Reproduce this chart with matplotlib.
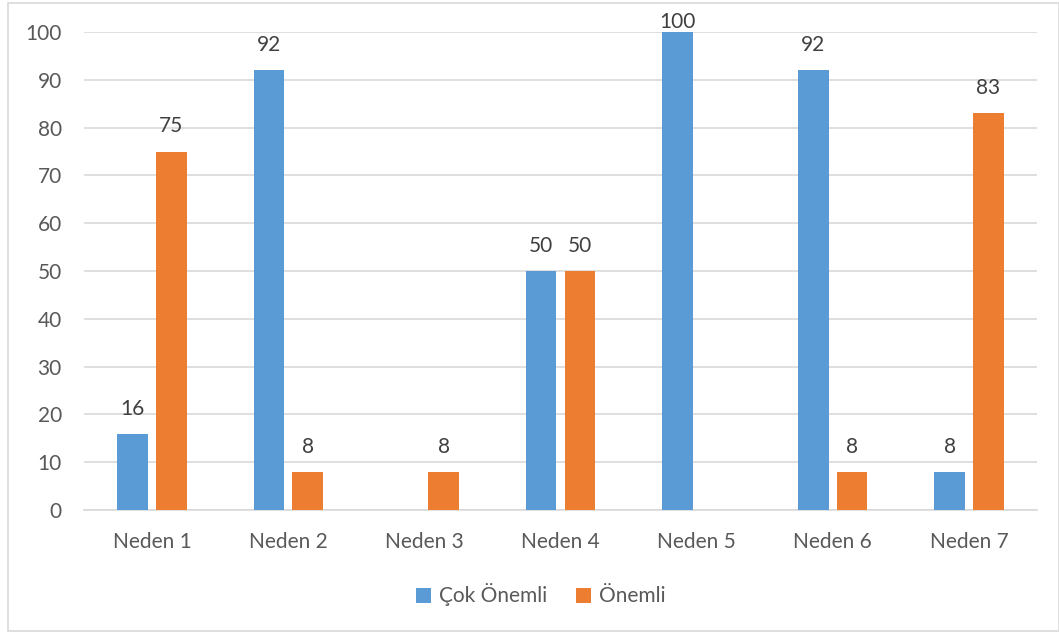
import matplotlib.pyplot as plt
from matplotlib.patches import Rectangle
import numpy as np

plt.rcParams['font.family'] = ['Lato', 'DejaVu Sans']

categories = ['Neden 1', 'Neden 2', 'Neden 3', 'Neden 4', 'Neden 5', 'Neden 6', 'Neden 7']
cok_onemli = [16, 92, 0, 50, 100, 92, 8]
onemli = [75, 8, 8, 50, 0, 8, 83]
series_names = ['Çok Önemli', 'Önemli']

blue = '#5B9BD5'
orange = '#ED7D31'
text_col = '#595959'
grid_col = '#D9D9D9'

fig = plt.figure(figsize=(10.59, 6.32), dpi=100)
ax = fig.add_axes([84 / 1059, 1 - 510 / 632, (1037 - 84) / 1059, 478 / 632])

x = np.arange(len(categories))
w = 0.225
off = 0.142
b1 = ax.bar(x - off, cok_onemli, w, color=blue, label=series_names[0], zorder=3)
b2 = ax.bar(x + off, onemli, w, color=orange, label=series_names[1], zorder=3)

# data labels, zero values are left without a label
for bars, vals in ((b1, cok_onemli), (b2, onemli)):
    for bar, v in zip(bars, vals):
        if v == 0:
            continue
        dy = 25 if v < 98 else 10
        ax.annotate(str(v), (bar.get_x() + bar.get_width() / 2, v),
                    xytext=(0, dy), textcoords='offset pixels',
                    ha='center', va='center', fontsize=15, color='#404040',
                    annotation_clip=False)

ax.set_xlim(-0.5, len(categories) - 0.5)
ax.set_ylim(0, 100)
ax.set_yticks(range(0, 101, 10))
ax.set_xticks(x)
ax.set_xticklabels(categories)
ax.tick_params(axis='both', length=0, labelsize=15, colors=text_col)
ax.tick_params(axis='y', pad=16)
ax.tick_params(axis='x', pad=16)
ax.yaxis.grid(True, color=grid_col, linewidth=1.2, zorder=0)
for s in ['top', 'right', 'left']:
    ax.spines[s].set_visible(False)
ax.spines['bottom'].set_color(grid_col)
ax.spines['bottom'].set_linewidth(1.2)

fig.legend(loc='center', bbox_to_anchor=(541 / 1059, 1 - 595 / 632), ncol=2,
           frameon=False, fontsize=15, labelcolor=text_col, handlelength=0.7,
           handleheight=0.7, handletextpad=0.4, columnspacing=1.4)

# chart border
fig.patches.append(Rectangle((8 / 1059, 1 / 632), 1 - 8 / 1059, 1 - 4 / 632,
                             transform=fig.transFigure, fill=False,
                             edgecolor='#D9D9D9', linewidth=1.2))

fig.savefig('out.png', dpi=100)
